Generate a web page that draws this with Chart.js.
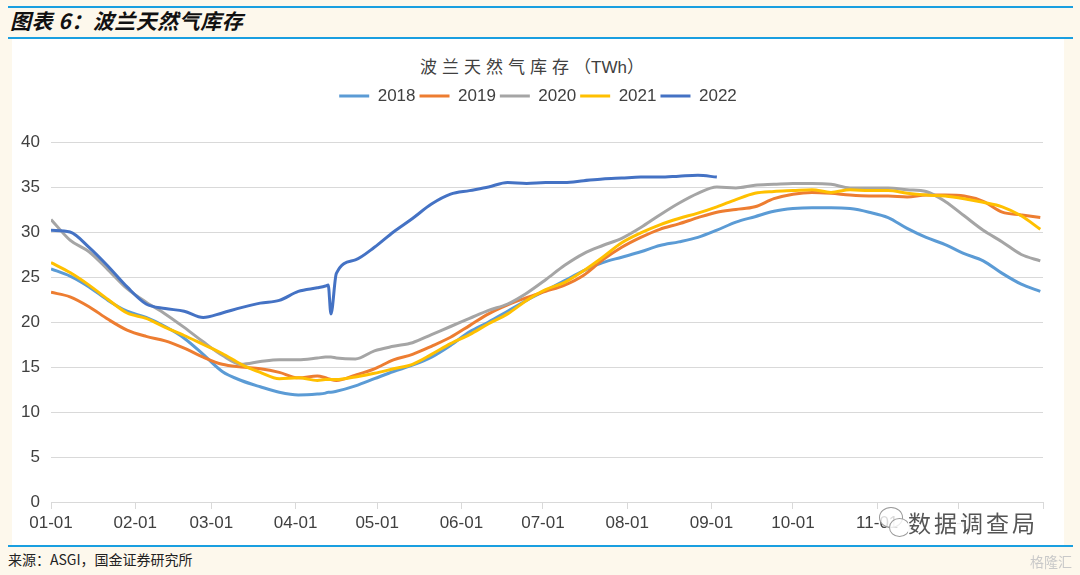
<!DOCTYPE html>
<html lang="zh">
<head>
<meta charset="UTF-8">
<title>波兰天然气库存</title>
<script src="https://cdn.jsdelivr.net/npm/chart.js"></script>
<style>
  body {
    margin: 0;
    width: 1080px;
    height: 575px;
    background: #fdf8ec;
    position: relative;
    overflow: hidden;
    font-family: 'Liberation Sans', Arial, sans-serif;
  }
  .rule {
    position: absolute;
    left: 8px;
    width: 1065px;
    height: 2px;
    background: #1a9fe0;
  }
  .header {
    position: absolute;
    left: 10px;
    top: 10px;
    font: italic bold 21px/21px 'Noto Sans CJK SC', sans-serif;
    letter-spacing: 0.5px;
    color: #111;
  }
  .panel {
    position: absolute;
    left: 12px;
    top: 39px;
    width: 1052px;
    height: 507px;
    background: #fff;
  }
  .chart-title {
    position: absolute;
    left: 420px;
    top: 57px;
    font: 17px/17px 'Noto Sans CJK SC', sans-serif;
    color: #404040;
    white-space: nowrap;
  }
  .chart-title .cjk { letter-spacing: 5px; }
  .chart-title .latin { font-family: 'Liberation Sans', Arial, sans-serif; }
  .chart-box {
    position: absolute;
    left: 12px;
    top: 40px;
    width: 1052px;
    height: 506px;
  }
  .source {
    position: absolute;
    left: 8px;
    top: 551px;
    font: 14px/16px 'Noto Sans CJK SC', sans-serif;
    color: #222;
  }
  .mark {
    position: absolute;
    left: 908px;
    top: 509px;
    font: 23px/26px 'Noto Sans CJK SC', sans-serif;
    letter-spacing: 3px;
    color: #555;
    background: rgba(255,255,255,0.9);
  }
  .mark-icon {
    position: absolute;
    border: 1.5px solid #999;
    border-radius: 50%;
    background: rgba(255,255,255,0.8);
  }
  .brand {
    position: absolute;
    left: 1030px;
    top: 553px;
    font: 14px/16px 'Noto Sans CJK SC', sans-serif;
    color: #c9c9c9;
  }
</style>
</head>
<body>

<div class="rule" style="top:6px"></div>
<div class="header">图表 6：波兰天然气库存</div>
<div class="rule" style="top:37px"></div>
<div class="panel"></div>
<div class="chart-title"><span class="cjk">波兰天然气库存</span>（<span class="latin">TWh</span>）</div>
<div class="chart-box"><canvas id="chartStock" width="1052" height="506"></canvas></div>
<div class="mark-icon" style="left:879px;top:507px;width:22px;height:19px"></div>
<div class="mark-icon" style="left:889px;top:518px;width:19px;height:17px"></div>
<div class="mark">数据调查局</div>
<div class="rule" style="top:545px"></div>
<div class="source">来源：ASGI，国金证券研究所</div>
<div class="brand">格隆汇</div>

<script>
  // jour de l'annee (0 = 01-01)
  const days = [0, 7, 14, 21, 28, 35, 42, 49, 56, 63, 70, 77, 84, 91, 98,
    101, 102, 103,
    105, 112, 119, 126, 133, 140, 147, 154, 161, 168, 175, 182, 189, 196, 203, 210, 217, 224, 231, 238, 245,
    252, 259, 266, 273, 280, 287, 294, 301, 308, 315, 322, 329, 336, 343, 350, 357, 364];

  const tickDays = [0, 31, 59, 90, 120, 151, 181, 212, 243, 273, 304, 334, 365];
  const tickLabels = ['01-01', '02-01', '03-01', '04-01', '05-01', '06-01',
    '07-01', '08-01', '09-01', '10-01', '11-01', '12-01'];

  const years = ['2018', '2019', '2020', '2021', '2022'];

  const s2018 = [25.9, 25.1, 23.9, 22.4, 21.2, 20.5, 19.5, 18.2, 16.4, 14.5, 13.5, 12.8, 12.2, 11.9, 12.0,
    12.1, 12.2, 12.2,
    12.3, 12.9, 13.7, 14.5, 15.2, 16.1, 17.4, 18.9, 20.0, 21.2, 22.4, 23.5, 24.6, 25.7, 26.6, 27.2, 27.8, 28.5, 28.9, 29.4, 30.2,
    31.1, 31.7, 32.3, 32.6, 32.7, 32.7, 32.6, 32.2, 31.6, 30.4, 29.4, 28.6, 27.6, 26.8, 25.4, 24.2, 23.4];

  const s2019 = [23.3, 22.8, 21.7, 20.3, 19.1, 18.4, 17.9, 17.1, 16.1, 15.3, 15.0, 14.8, 14.4, 13.8, 14.0,
    13.8, 13.7, 13.6,
    13.5, 14.1, 14.8, 15.8, 16.4, 17.3, 18.3, 19.6, 20.9, 21.9, 22.7, 23.4, 24.1, 25.2, 26.9, 28.3, 29.4, 30.3, 30.9, 31.6, 32.2,
    32.5, 32.8, 33.7, 34.2, 34.4, 34.3, 34.1, 34.0, 34.0, 33.9, 34.1, 34.1, 34.0, 33.4, 32.2, 31.9, 31.6];

  const s2020 = [31.4, 29.1, 27.8, 25.8, 23.7, 22.2, 20.9, 19.4, 17.8, 16.3, 15.3, 15.6, 15.8, 15.8, 16.0,
    16.1, 16.1, 16.1,
    16.0, 15.9, 16.8, 17.3, 17.7, 18.6, 19.5, 20.4, 21.3, 22.0, 23.2, 24.7, 26.3, 27.6, 28.5, 29.3, 30.5, 31.9, 33.2, 34.3, 35.0,
    34.9, 35.2, 35.3, 35.4, 35.4, 35.3, 34.9, 34.9, 34.9, 34.7, 34.5, 33.4, 31.8, 30.2, 28.9, 27.5, 26.8];

  const s2021 = [26.6, 25.5, 24.1, 22.5, 21.0, 20.4, 19.4, 18.5, 17.5, 16.5, 15.3, 14.4, 13.7, 13.8, 13.5,
    13.6, 13.6, 13.6,
    13.6, 13.9, 14.3, 14.8, 15.3, 16.4, 17.6, 18.6, 19.8, 20.9, 22.4, 23.6, 24.4, 25.7, 27.2, 28.8, 29.9, 30.8, 31.5, 32.1, 32.8,
    33.6, 34.3, 34.5, 34.6, 34.7, 34.4, 34.7, 34.6, 34.6, 34.3, 34.1, 34.0, 33.7, 33.3, 32.8, 31.8, 30.3];

  const s2022 = [30.2, 30.0, 28.3, 26.2, 23.9, 22.0, 21.5, 21.2, 20.5, 21.0, 21.6, 22.1, 22.4, 23.4, 23.8,
    24.0, 24.1, 20.9,
    25.4, 26.9, 28.3, 30.0, 31.5, 33.1, 34.2, 34.6, 35.0, 35.5, 35.4, 35.5, 35.5, 35.7, 35.9, 36.0, 36.1, 36.1, 36.2, 36.3, 36.1,
    null, null, null, null, null, null, null, null, null, null, null, null, null, null, null, null, null];

  const series = [s2018, s2019, s2020, s2021, s2022];
  const colors = ['#5B9BD5', '#ED7D31', '#A5A5A5', '#FFC000', '#4472C4'];

  // plus d'espace sous la legende, et legende un peu decalee a droite
  const legendSpacer = {
    id: 'legendSpacer',
    beforeInit(chart) {
      const fit = chart.legend.fit;
      chart.legend.fit = function () {
        fit.call(this);
        this.height += 27.5;
      };
    },
    afterLayout(chart) {
      chart.legend.left += 21;
    }
  };

  const font = { family: "'Liberation Sans', Arial, sans-serif", size: 17 };

  new Chart(document.getElementById('chartStock'), {
    type: 'line',
    data: {
      datasets: years.map((y, k) => ({
        label: y,
        data: days.map((d, i) => ({ x: d, y: series[k][i] })),
        borderColor: colors[k],
        backgroundColor: colors[k],
        borderWidth: 3,
        pointRadius: 0,
        cubicInterpolationMode: 'monotone',
        spanGaps: false,
        order: years.length - k
      }))
    },
    options: {
      responsive: false,
      animation: false,
      layout: { padding: { left: 0, right: 21, top: 43.5, bottom: 13 } },
      plugins: {
        legend: {
          position: 'top',
          labels: {
            usePointStyle: true,
            pointStyle: 'line',
            pointStyleWidth: 30,
            padding: 4,
            color: '#404040',
            font: font,
            sort: (a, b) => a.datasetIndex - b.datasetIndex
          }
        },
        tooltip: { enabled: false }
      },
      scales: {
        x: {
          type: 'linear',
          min: 0,
          max: 365,
          afterBuildTicks: (axis) => { axis.ticks = tickDays.map(v => ({ value: v })); },
          afterFit: (axis) => { axis.height = 31; },
          grid: { drawOnChartArea: false, drawTicks: true, tickLength: 7, color: '#D9D9D9' },
          border: { display: true, color: '#D9D9D9' },
          ticks: {
            autoSkip: false,
            maxRotation: 0,
            padding: 4,
            color: '#404040',
            font: font,
            callback: (value, index) => tickLabels[index] || ''
          }
        },
        y: {
          min: 0,
          max: 40,
          afterFit: (axis) => { axis.width = 39; },
          grid: { drawTicks: false, color: '#D9D9D9' },
          border: { display: false },
          ticks: { stepSize: 5, padding: 11, color: '#404040', font: font }
        }
      }
    },
    plugins: [legendSpacer]
  });
</script>

</body>
</html>
